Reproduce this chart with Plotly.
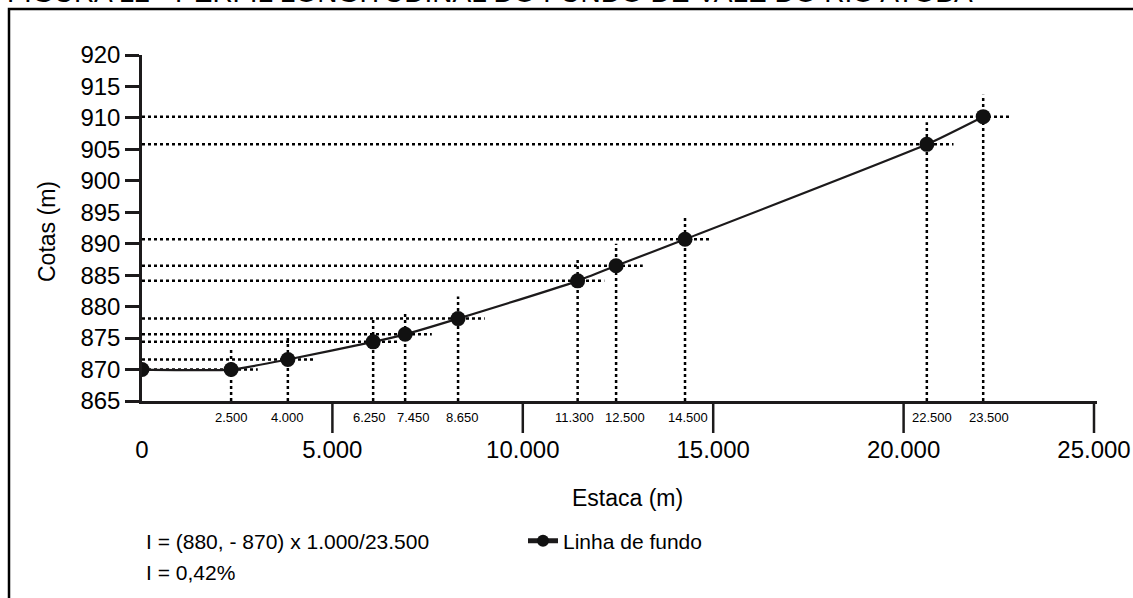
import plotly.graph_objects as go

# Longitudinal profile of the valley floor (station vs. elevation)
estaca = [0, 2340, 3830, 6070, 6910, 8300, 11440, 12450, 14260, 20610, 22090]
cota = [870.0, 870.0, 871.6, 874.4, 875.6, 878.1, 884.1, 886.5, 890.7, 905.8, 910.2]
estaca_labels = ["2.500", "4.000", "6.250", "7.450", "8.650",
                 "11.300", "12.500", "14.500", "22.500", "23.500"]

x_ticks = [0, 5000, 10000, 15000, 20000, 25000]
x_tick_text = ["0", "5.000", "10.000", "15.000", "20.000", "25.000"]
y_ticks = [865, 870, 875, 880, 885, 890, 895, 900, 905, 910, 915, 920]

title_text = "FIGURA 12 - PERFIL LONGITUDINAL DO FUNDO DE VALE DO RIO ATOBA"
formula_lines = ["I = (880, - 870) x 1.000/23.500", "I = 0,42%"]

# ---- page geometry (pixels) ----
W, H = 1133, 598
L, R, T, B = 142, 1097, 55, 401
PW, PH = R - L, B - T
X_MAX = 25000 * PW / (1094 - L)
Y_MIN, Y_MAX = 865, 920

INK = "#1c1a1b"
FONT = "Liberation Sans, Arial, sans-serif"

# small nudges so neighbouring station labels do not collide
LABEL_SHIFT = [0, 0, -4, 8, 4, -3, 9, 3, 5, 6]


def fx(px):
    return (px - L) / PW


def fy(py):
    return (B - py) / PH


# reference guides: horizontal to the elevation axis, vertical to the station axis
H_EXT = 700      # how far a horizontal guide runs past its point (x units)
V_EXT = 3.5      # how far a vertical guide rises above its point (y units)
gx, gy = [], []
for xv, yv in zip(estaca[1:], cota[1:]):
    gx += [0, xv + H_EXT, None, xv, xv, None]
    gy += [yv, yv, None, Y_MIN, yv + V_EXT, None]

fig = go.Figure()
fig.add_trace(go.Scatter(
    x=gx, y=gy, mode="lines", showlegend=False, hoverinfo="skip",
    line=dict(color="#000000", width=2.5, dash="dot"),
))
fig.add_trace(go.Scatter(
    x=estaca, y=cota, mode="lines+markers", name="Linha de fundo",
    line=dict(color=INK, width=2.2, shape="spline", smoothing=0.5),
    marker=dict(size=15, color="#111111", line=dict(width=0)),
))

shapes = [
    # outer frame
    dict(type="rect", xref="paper", yref="paper",
         x0=fx(9), x1=fx(W + 20), y0=fy(9), y1=fy(H + 20),
         line=dict(color="#000000", width=2.5), layer="below"),
]
# long station ticks below the axis
for tv in x_ticks[1:]:
    shapes.append(dict(type="line", xref="x", yref="paper",
                       x0=tv, x1=tv, y0=0, y1=fy(B + 32),
                       line=dict(color=INK, width=2.5)))

annotations = [
    dict(text=title_text, xref="paper", yref="paper", x=fx(490), y=fy(10),
         xanchor="center", yanchor="bottom", showarrow=False,
         font=dict(family=FONT, size=28, color="#000000")),
    dict(text="Estaca (m)", xref="paper", yref="paper", x=fx(627), y=fy(498),
         xanchor="center", yanchor="middle", showarrow=False,
         font=dict(family=FONT, size=23, color="#000000")),
    dict(text="Cotas (m)", xref="paper", yref="paper", x=fx(47), y=fy(232),
         xanchor="center", yanchor="middle", showarrow=False, textangle=-90,
         font=dict(family=FONT, size=23, color="#000000")),
]
for i, line in enumerate(formula_lines):
    annotations.append(dict(
        text=line, xref="paper", yref="paper", x=fx(144), y=fy(541 + 31 * i),
        xanchor="left", yanchor="middle", showarrow=False,
        font=dict(family=FONT, size=21, color="#000000")))
for xv, lab, sh in zip(estaca[1:], estaca_labels, LABEL_SHIFT):
    annotations.append(dict(
        text=lab, xref="x", yref="paper", x=xv, y=fy(418), xshift=sh,
        xanchor="center", yanchor="middle", showarrow=False,
        font=dict(family=FONT, size=13, color="#000000")))

fig.update_layout(
    width=W, height=H,
    margin=dict(l=L, r=W - R, t=T, b=H - B),
    paper_bgcolor="white", plot_bgcolor="white",
    font=dict(family=FONT, color="#000000"),
    showlegend=True,
    legend=dict(x=fx(523), y=fy(541), xanchor="left", yanchor="middle",
                bgcolor="rgba(0,0,0,0)", itemsizing="constant",
                font=dict(family=FONT, size=21, color="#000000")),
    shapes=shapes,
    annotations=annotations,
)
fig.update_xaxes(
    range=[0, X_MAX], showgrid=False, zeroline=False, automargin=False,
    showline=True, linecolor=INK, linewidth=2.5,
    tickmode="array", tickvals=x_ticks, ticktext=x_tick_text,
    ticks="", ticklabelstandoff=25,
    tickfont=dict(family=FONT, size=24, color="#000000"),
)
fig.update_yaxes(
    range=[Y_MIN, Y_MAX], showgrid=False, zeroline=False, automargin=False,
    showline=True, linecolor=INK, linewidth=2.5,
    tickmode="array", tickvals=y_ticks,
    ticks="outside", ticklen=14, tickwidth=2.5, tickcolor=INK,
    tickfont=dict(family=FONT, size=24, color="#000000"),
)

fig.write_html("out.html")
